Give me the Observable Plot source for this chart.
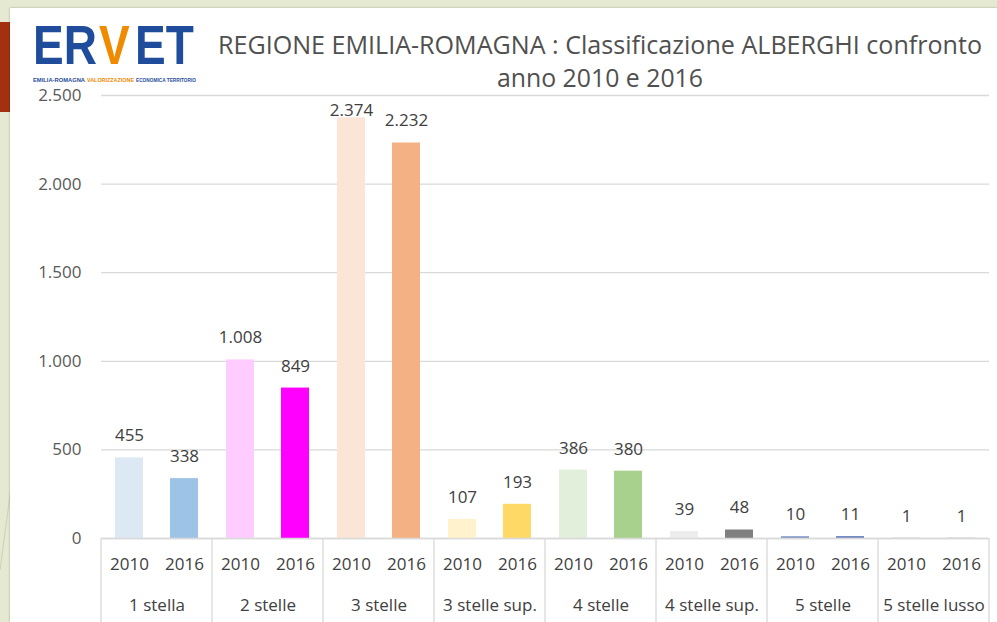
<!DOCTYPE html>
<html><head><meta charset="utf-8">
<script src="https://cdn.jsdelivr.net/npm/d3@7"></script>
<script src="https://cdn.jsdelivr.net/npm/@observablehq/plot@0.6"></script>
<style>
html,body{margin:0;padding:0;}
body{width:997px;height:622px;background:#e5e9d1;position:relative;overflow:hidden;font-family:"Open Sans",sans-serif;}
#panel{position:absolute;left:10px;top:8px;width:987px;height:614px;background:#fff;box-shadow:0 0 2px rgba(0,0,0,.3);}
#redbar{position:absolute;left:0;top:22px;width:10px;height:90px;background:#a3300f;}
#chart{position:absolute;left:0;top:0;}
#overlay{position:absolute;left:0;top:0;pointer-events:none;}
</style></head>
<body>
<svg id="deco" width="12" height="622" style="position:absolute;left:0;top:0"><line x1="0" y1="570" x2="11" y2="488" stroke="#cfd4b8" stroke-width="1.2"/></svg>
<div id="redbar"></div>
<div id="panel"></div>
<div id="chart"></div>
<svg id="overlay" width="997" height="622">
  <g font-family="Liberation Sans" font-weight="bold">
    <g transform="translate(0,64) scale(1,1.22)" font-size="46">
      <text x="33" y="0" fill="#1f4c9b">ER</text>
      <text x="99" y="0" fill="#f08a00">V</text>
      <text x="135" y="0" fill="#1f4c9b">ET</text>
    </g>
    <text x="33" y="82" textLength="52" lengthAdjust="spacingAndGlyphs" font-size="5.5" fill="#1f4c9b">EMILIA-ROMAGNA</text>
    <text x="87" y="82" textLength="47" lengthAdjust="spacingAndGlyphs" font-size="5.5" fill="#f08a00">VALORIZZAZIONE</text>
    <text x="136" y="82" textLength="60" lengthAdjust="spacingAndGlyphs" font-size="5.5" fill="#1f4c9b">ECONOMICA TERRITORIO</text>
  </g>
  <text x="600" y="54" text-anchor="middle" textLength="764" lengthAdjust="spacingAndGlyphs" font-family="Open Sans" font-size="25" fill="#505050">REGIONE EMILIA-ROMAGNA : Classificazione ALBERGHI confronto</text>
  <text x="600" y="87" text-anchor="middle" textLength="206" lengthAdjust="spacingAndGlyphs" font-family="Open Sans" font-size="25" fill="#505050">anno 2010 e 2016</text>
</svg>
<script>
const categories = ["1 stella","2 stelle","3 stelle","3 stelle sup.","4 stelle","4 stelle sup.","5 stelle","5 stelle lusso"];
const years = ["2010","2016"];
const values2010 = [455,1008,2374,107,386,39,10,1];
const values2016 = [338,849,2232,193,380,48,11,1];
const colors2010 = ["#dce9f5","#ffccff","#fbe5d6","#fff2cc","#e2efda","#ededed","#7d93c8","#7d93c8"];
const colors2016 = ["#9dc3e6","#ff00ff","#f4b183","#ffd966","#a9d18e","#7f7f7f","#6f86c0","#6f86c0"];
const yTicks = [0,500,1000,1500,2000,2500];

const itLocale = d3.formatLocale({decimal:",", thousands:".", grouping:[3], currency:["€",""]});
const fmt = itLocale.format(",");

const rows = [];
categories.forEach((c,i)=>{
  rows.push({category:c, year:years[0], value:values2010[i], color:colors2010[i]});
  rows.push({category:c, year:years[1], value:values2016[i], color:colors2016[i]});
});

const plot = Plot.plot({
  width: 997, height: 622,
  marginLeft: 100, marginRight: 7, marginTop: 95, marginBottom: 84,
  style: {background:"transparent", fontFamily:"Open Sans", fontSize:"17px", color:"#595959", overflow:"visible"},
  fx: {domain: categories, padding: 0, label: null},
  x: {domain: years, paddingInner: 0.5, paddingOuter: 0.25, label: null},
  y: {domain: [0,2500], label: null},
  color: {type: "identity"},
  marks: [
    Plot.gridY(yTicks, {stroke:"#d9d9d9", strokeOpacity:1, strokeWidth:1.3}),
    Plot.axisY({ticks: yTicks, tickSize:0, tickPadding:20, tickFormat: fmt, fill:"#595959", fontSize:17}),
    Plot.barY(rows, {fx:"category", x:"year", y:"value", fill:"color"}),
    Plot.text(rows, {fx:"category", x:"year", y: d => Math.min(d.value, 2290), text: d => fmt(d.value), dy:-22, fill:"#404040", fontSize:17}),
    Plot.ruleY([0], {stroke:"#d9d9d9", strokeWidth:1.3}),
    Plot.axisX({tickSize:0, tickPadding:19, fill:"#404040", fontSize:17}),
    Plot.axisFx({anchor:"bottom", tickSize:0, tickPadding:60, fill:"#404040", fontSize:17})
  ]
});
document.getElementById("chart").appendChild(plot);

// category separators of the two-level axis, placed with the plot's own scales
const fx = plot.scale("fx");
const y = plot.scale("y");
const y0 = y.apply(0);
const edges = categories.map(c => fx.apply(c));
edges.push(fx.apply(categories[categories.length-1]) + fx.bandwidth);
const svg = d3.select(plot);
svg.append("g").selectAll("line").data(edges).join("line")
  .attr("x1", d => d).attr("x2", d => d)
  .attr("y1", y0).attr("y2", 622)
  .attr("stroke", "#d9d9d9").attr("stroke-width", 1.3);
</script>
</body></html>
